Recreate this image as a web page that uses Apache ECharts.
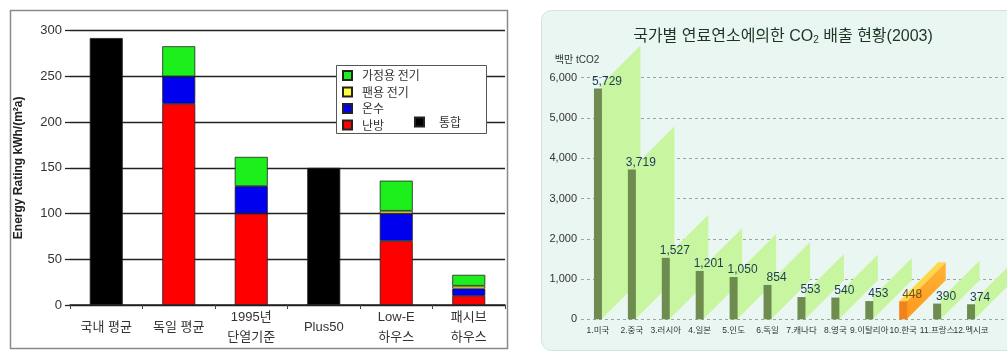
<!DOCTYPE html>
<html>
<head>
<meta charset="utf-8">
<script src="https://cdn.jsdelivr.net/npm/echarts@6/dist/echarts.min.js"></script>
<style>
  html, body { margin: 0; padding: 0; background: #ffffff; }
  #chart { width: 1007px; height: 353px; }
</style>
</head>
<body>
<div id="chart"></div>
<script>
// Energy demand by building standard (kWh per m² per year)
const energyCats = ['국내 평균', '독일 평균', '1995년\n단열기준', 'Plus50', 'Low-E\n하우스', '패시브\n하우스'];
const heating   = [null, 220, 100, null, 70, 10];   // 난방
const hotWater  = [null, 30, 30, null, 30, 8];      // 온수
const fanPower  = [null, null, null, null, 3, 3];   // 팬용 전기
const homePower = [null, 33, 32, null, 33, 12];     // 가정용 전기
const combined  = [292, null, null, 150, null, null]; // 통합
const energyTicks = [0, 50, 100, 150, 200, 250, 300];

// CO2 emissions from fuel combustion by country, 2003 (million tCO2)
const countries = ['1.미국', '2.중국', '3.러시아', '4.일본', '5.인도', '6.독일', '7.캐나다', '8.영국', '9.이탈리아', '10.한국', '11.프랑스', '12.멕시코'];
const emissions = [5729, 3719, 1527, 1201, 1050, 854, 553, 540, 453, 448, 390, 374];
const emissionTicks = [0, 1000, 2000, 3000, 4000, 5000, 6000];
const highlightIndex = 9; // 10.한국

const FONT = "'Liberation Sans', 'Noto Sans CJK KR', sans-serif";
const chart = echarts.init(document.getElementById('chart'), null, { renderer: 'canvas' });

const tickMin = t => t[0];
const tickMax = t => t[t.length - 1];
const tickStep = t => t[1] - t[0];
const withComma = v => String(v).replace(/\B(?=(\d{3})+(?!\d))/g, ',');

const stackBar = (name, data, color) => ({
  name, type: 'bar', stack: 'energy', data,
  xAxisIndex: 0, yAxisIndex: 0, barWidth: 33,
  itemStyle: { color, borderColor: '#222', borderWidth: 0.8 },
  z: 3
});

// depth of the pseudo-3D faces on the emissions chart
const DEPTH = 39;
const LIFT = 4;

function renderFaces(params, api) {
  const i = api.value(0);
  const v = api.value(1);
  const base = api.coord([i, 0]);
  const top = api.coord([i, v]);
  const half = 4;
  const xr = base[0] + half - 0.5;
  const yb = base[1];
  if (params.dataIndex === highlightIndex) {
    const yt = top[1];
    const xl = base[0] - half;
    return {
      type: 'group',
      children: [
        { type: 'polygon', shape: { points: [[xr, yb], [xr + DEPTH, yb - DEPTH], [xr + DEPTH, yt - DEPTH], [xr, yt]] },
          style: { fill: new echarts.graphic.LinearGradient(0, 1, 1, 0, [{ offset: 0, color: '#ff9a1c' }, { offset: 1, color: '#ffb236' }]) } },
        { type: 'polygon', shape: { points: [[xl, yt], [xr, yt], [xr + DEPTH, yt - DEPTH], [xl + DEPTH, yt - DEPTH]] },
          style: { fill: '#ffd84a' } }
      ]
    };
  }
  const yt = top[1] - LIFT;
  return {
    type: 'polygon',
    shape: { points: [[xr, yb], [xr + DEPTH, yb - DEPTH], [xr + DEPTH, yt - DEPTH], [xr, yt]] },
    style: { fill: '#c8f6a0' }
  };
}

const legendText = { fontSize: 12, color: '#333', fontFamily: "'Noto Sans CJK KR', sans-serif" };

const option = {
  animation: false,
  textStyle: { fontFamily: FONT },
  title: {
    text: '{t|국가별 연료연소에의한 CO}{s|2}{t| 배출 현황(2003)}',
    left: 778, top: 22, textAlign: 'center',
    textStyle: {
      fontWeight: 'normal',
      rich: {
        t: { fontSize: 16, color: '#1c3524', fontFamily: FONT, fontWeight: 'normal', lineHeight: 20 },
        s: { fontSize: 10, color: '#1c3524', fontFamily: FONT, fontWeight: 'normal', lineHeight: 20, padding: [6, 0, 0, 0] }
      }
    }
  },
  graphic: [
    { type: 'rect', z: -10, shape: { x: 10.5, y: 10.5, width: 497, height: 338 },
      style: { fill: '#ffffff', stroke: '#8a8a8a', lineWidth: 1.5 } },
    { type: 'rect', z: -10, shape: { x: 541.5, y: 10.5, width: 490, height: 340, r: 10 },
      style: { fill: '#e9f6f1', stroke: '#d2e3dc', lineWidth: 1 } },
    { type: 'rect', z: 3, shape: { x: 336.5, y: 65.5, width: 150, height: 68 },
      style: { fill: '#ffffff', stroke: '#555555', lineWidth: 1 } }
  ],
  legend: [
    {
      data: ['가정용 전기', '팬용 전기', '온수', '난방'],
      orient: 'vertical', left: 342, top: 69.5, padding: 0,
      itemWidth: 9, itemHeight: 9, itemGap: 4.5, icon: 'rect',
      textStyle: Object.assign({ padding: [0, 0, 0, 5] }, legendText),
      z: 5
    },
    {
      data: ['통합'],
      left: 414, top: 116, padding: 0,
      itemWidth: 9, itemHeight: 9, icon: 'rect',
      textStyle: Object.assign({ padding: [0, 0, 0, 10] }, legendText),
      z: 5
    }
  ],
  grid: [
    { left: 70, width: 435, top: 30.7, height: 274.3 },
    { left: 581, width: 407, top: 77.7, height: 241.6 },
    { left: 581, right: 0, top: 77.7, height: 241.6 }
  ],
  xAxis: [
    {
      gridIndex: 0, type: 'category', data: energyCats,
      axisLine: { lineStyle: { color: '#222', width: 1.5 } },
      axisTick: { show: true, interval: 0, length: 4, lineStyle: { color: '#444' } },
      axisLabel: { interval: 0, fontSize: 13, color: '#333', lineHeight: 20, verticalAlign: 'middle', margin: 22 }
    },
    {
      gridIndex: 1, type: 'category', data: countries,
      axisLine: { show: false }, axisTick: { show: false },
      axisLabel: { interval: 0, fontSize: 8.5, color: '#333', margin: 7 }
    },
    { gridIndex: 2, type: 'value', show: false, min: 0, max: 1 }
  ],
  yAxis: [
    {
      gridIndex: 0, type: 'value',
      min: tickMin(energyTicks), max: tickMax(energyTicks), interval: tickStep(energyTicks),
      name: 'Energy Rating kWh/(m²a)', nameLocation: 'middle', nameGap: 45,
      nameTextStyle: { fontSize: 12, fontWeight: 'bold', color: '#222' },
      axisLine: { show: false },
      axisTick: { show: true, length: 5, lineStyle: { color: '#222', width: 1.3 } },
      axisLabel: { fontSize: 13, color: '#333', margin: 8 },
      splitLine: { lineStyle: { color: '#222', width: 1.3 } }
    },
    {
      gridIndex: 1, type: 'value',
      min: tickMin(emissionTicks), max: tickMax(emissionTicks), interval: tickStep(emissionTicks),
      name: '백만 tCO2', nameLocation: 'end', nameGap: 12,
      nameTextStyle: { fontSize: 10, color: '#333', align: 'center', padding: [0, 8, 0, 0] },
      axisLine: { show: false }, axisTick: { show: false },
      axisLabel: { fontSize: 11, color: '#333', margin: 4, formatter: withComma },
      splitLine: { show: false }
    },
    {
      gridIndex: 2, type: 'value',
      min: tickMin(emissionTicks), max: tickMax(emissionTicks), interval: tickStep(emissionTicks),
      axisLine: { show: false }, axisTick: { show: false }, axisLabel: { show: false },
      splitLine: { lineStyle: { color: '#9aa5a0', width: 1, type: [3, 3] } }
    }
  ],
  series: [
    stackBar('난방', heating, '#ff0000'),
    stackBar('온수', hotWater, '#0000ee'),
    stackBar('팬용 전기', fanPower, '#ffff33'),
    stackBar('가정용 전기', homePower, '#1cef1c'),
    stackBar('통합', combined, '#000000'),
    {
      name: 'faces', type: 'custom',
      xAxisIndex: 1, yAxisIndex: 1,
      renderItem: renderFaces,
      data: emissions.map((v, i) => [i, v]),
      z: 1, silent: true
    },
    {
      name: 'CO2', type: 'bar',
      xAxisIndex: 1, yAxisIndex: 1, barWidth: 8,
      data: emissions.map((v, i) => i === highlightIndex
        ? { value: v, itemStyle: { color: '#f2811e' }, label: { color: '#6b5417' } }
        : v),
      itemStyle: { color: '#6e8c4f' },
      label: {
        show: true, position: 'top', distance: 1, offset: [9, 0],
        fontSize: 12, color: '#1d3b58', formatter: p => withComma(p.value)
      },
      z: 4
    }
  ]
};

chart.setOption(option);
</script>
</body>
</html>
